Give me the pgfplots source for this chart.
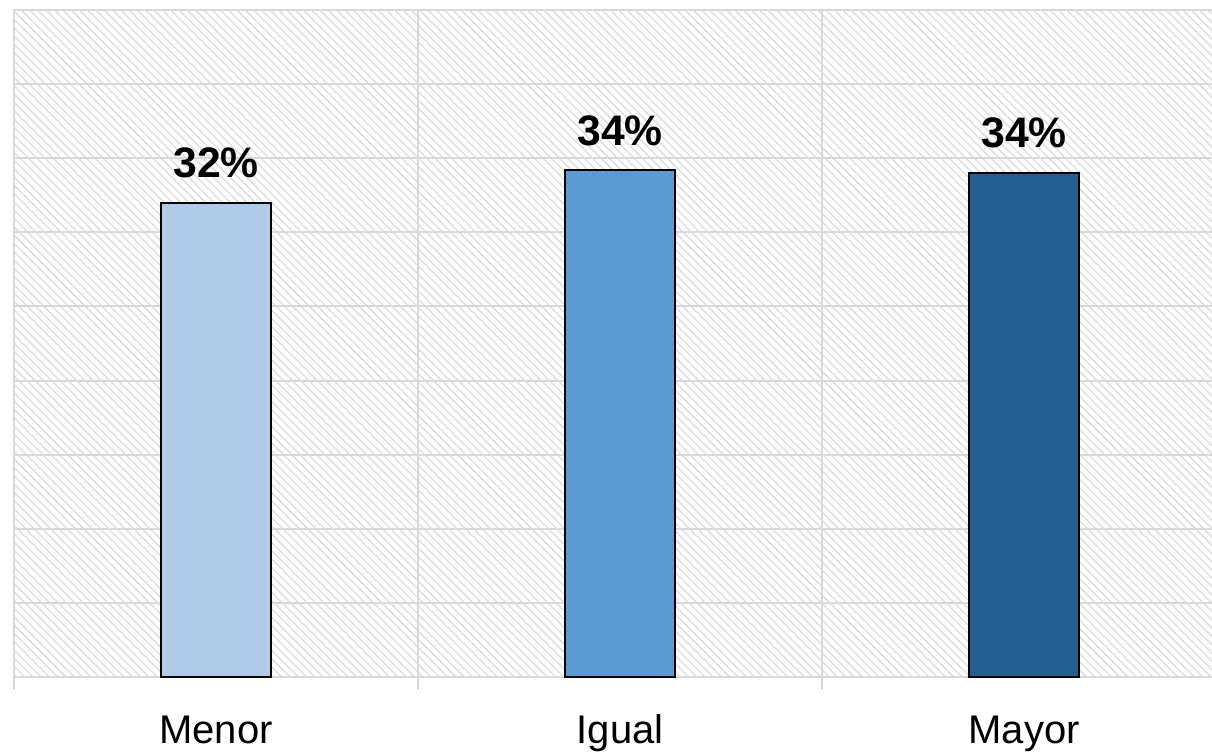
\documentclass[border=0pt]{standalone}
\usepackage{pgfplots}
\pgfplotsset{compat=1.18}
\usepackage{fontspec}
\setmainfont{Liberation Sans}
\usetikzlibrary{patterns.meta}

\definecolor{barA}{RGB}{175,203,232}
\definecolor{barB}{RGB}{91,155,213}
\definecolor{barC}{RGB}{37,94,145}
\definecolor{gridc}{RGB}{217,217,217}
\definecolor{hatchc}{RGB}{222,222,222}

\begin{document}
\begin{tikzpicture}
\useasboundingbox (-5.25pt,-28.125pt) rectangle (449.25pt,253.875pt);
\begin{axis}[
    scale only axis,
    width=454.5pt,
    height=250.125pt,
    at={(0,0)}, anchor=south west,
    ybar,
    bar width=41.25pt,
    bar shift=0pt,
    xmin=-0.5, xmax=2.5,
    ymin=0, ymax=45,
    xtick={-0.5,0.5,1.5,2.5},
    xticklabels={},
    ytick={0,5,...,45},
    yticklabels={},
    xmajorgrids, ymajorgrids,
    grid style={gridc, line width=0.75pt},
    axis line style={gridc, line width=0.75pt},
    tick align=outside,
    major tick length=5pt,
    x tick style={gridc, line width=0.75pt},
    xtick pos=bottom,
    y tick style={draw=none},
    extra x ticks={0,1,2},
    extra x tick labels={Menor,Igual,Mayor},
    extra x tick style={grid=none,
        tick style={draw=none},
        xticklabel style={anchor=base, yshift=-19.75pt,
            font=\fontsize{15}{18}\selectfont}},
    axis background/.style={pattern={Lines[angle=-45,distance=2.2pt,line width=0.55pt]},
        pattern color=hatchc},
    point meta=explicit symbolic,
    nodes near coords,
    every node near coord/.append style={anchor=base, yshift=9.4pt,
        inner sep=0pt, text=black,
        font=\fontsize{16}{19}\selectfont\bfseries},
    clip=false,
]
\addplot[fill=barA, draw=black, line width=0.7pt] coordinates {(0,32.0) [32\%]};
\addplot[fill=barB, draw=black, line width=0.7pt] coordinates {(1,34.2) [34\%]};
\addplot[fill=barC, draw=black, line width=0.7pt] coordinates {(2,34.0) [34\%]};
\end{axis}
\end{tikzpicture}
\end{document}
